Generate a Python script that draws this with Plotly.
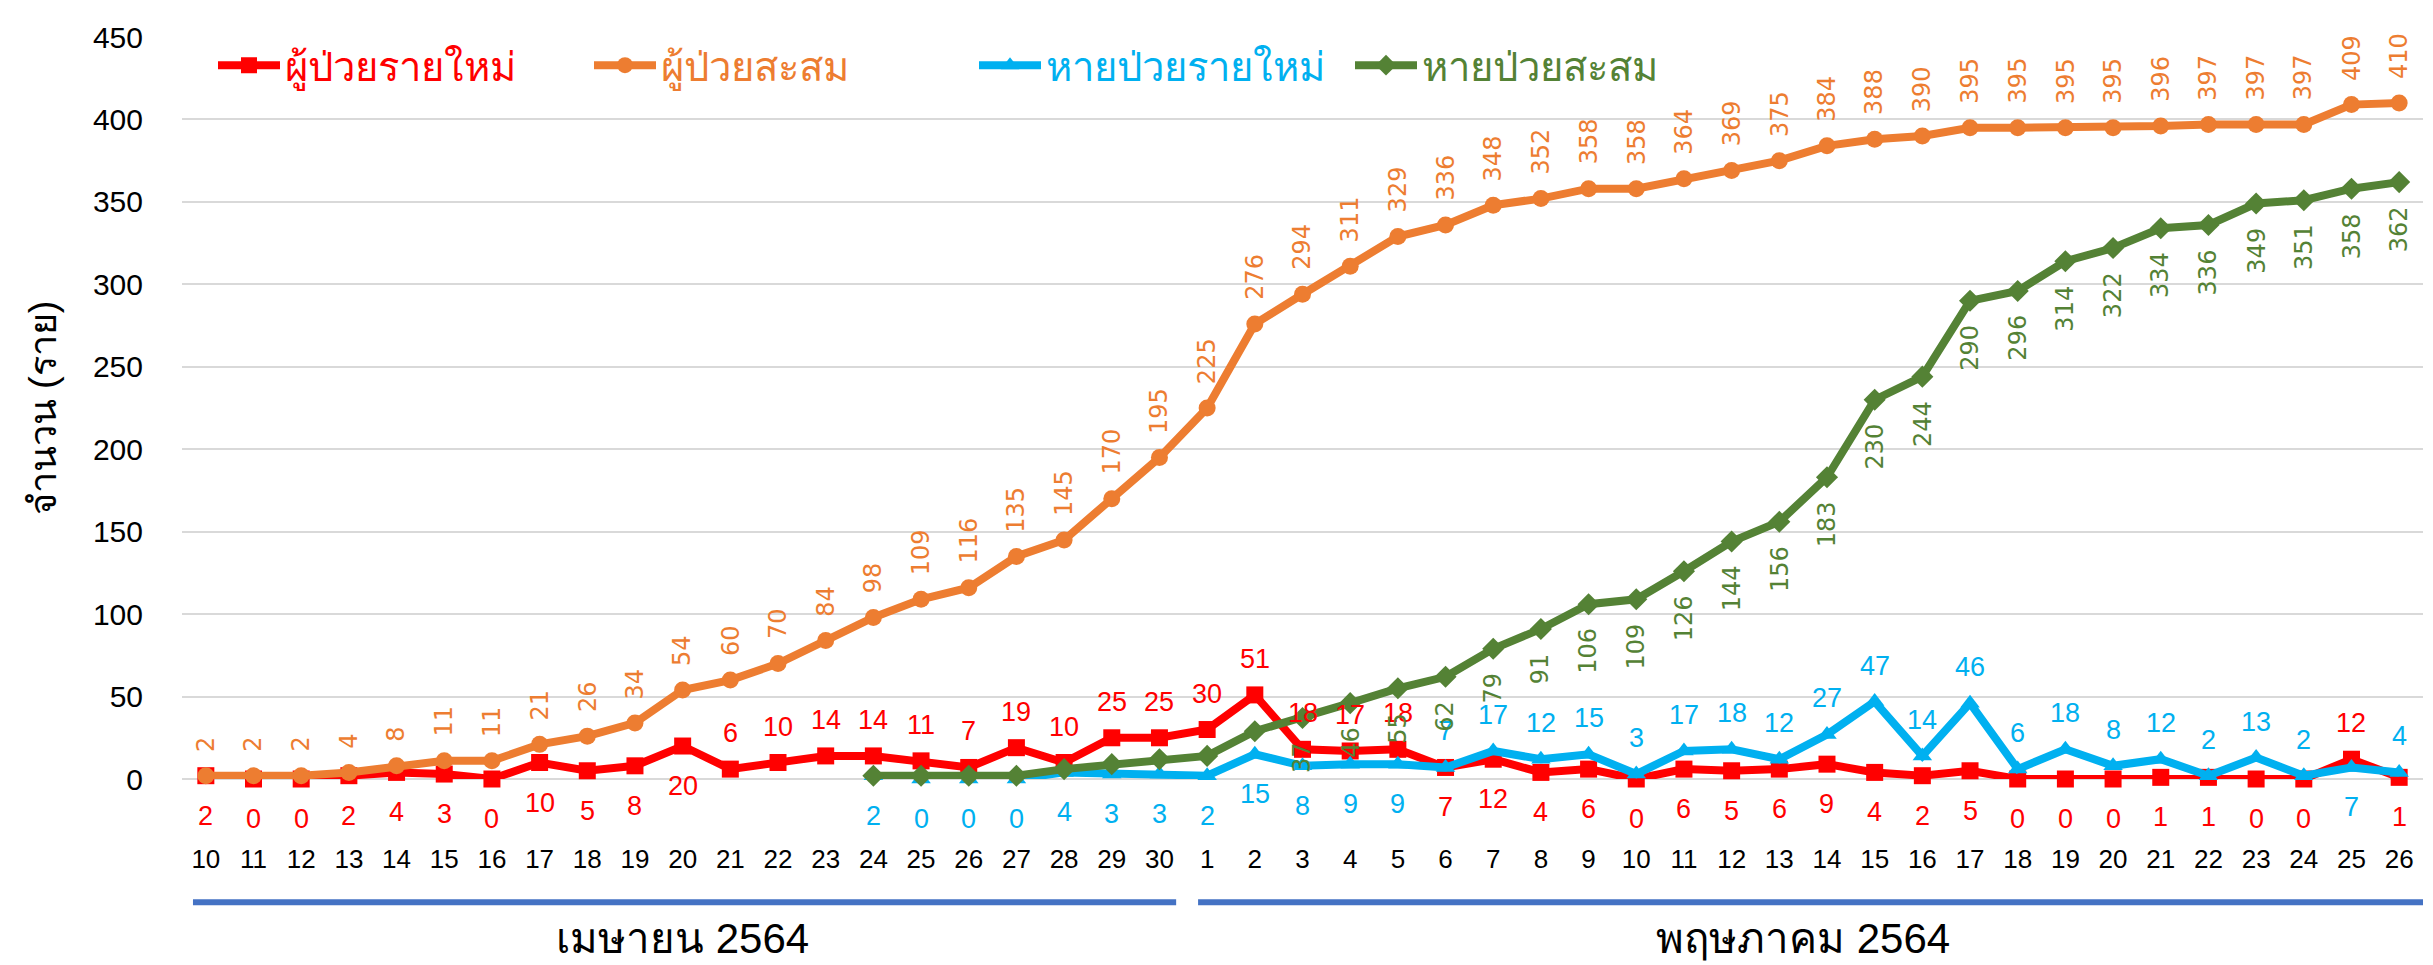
import plotly.graph_objects as go

days = [str(d) for d in range(10, 31)] + [str(d) for d in range(1, 27)]
month_labels = ["เมษายน 2564", "พฤษภาคม 2564"]
series_names = ["ผู้ป่วยรายใหม่", "ผู้ป่วยสะสม", "หายป่วยรายใหม่", "หายป่วยสะสม"]
y_title = "จำนวน (ราย)"

new_cases = [2, 0, 0, 2, 4, 3, 0, 10, 5, 8, 20, 6, 10, 14, 14, 11, 7, 19, 10, 25, 25,
             30, 51, 18, 17, 18, 7, 12, 4, 6, 0, 6, 5, 6, 9, 4, 2, 5, 0, 0, 0, 1, 1, 0, 0, 12, 1]
cum_cases = [2, 2, 2, 4, 8, 11, 11, 21, 26, 34, 54, 60, 70, 84, 98, 109, 116, 135, 145, 170, 195,
             225, 276, 294, 311, 329, 336, 348, 352, 358, 358, 364, 369, 375, 384, 388, 390, 395,
             395, 395, 395, 396, 397, 397, 397, 409, 410]
new_recov = [None] * 14 + [2, 0, 0, 0, 4, 3, 3,
             2, 15, 8, 9, 9, 7, 17, 12, 15, 3, 17, 18, 12, 27, 47, 14, 46, 6, 18, 8, 12, 2, 13, 2, 7, 4]
cum_recov = [None] * 14 + [2, 2, 2, 2, 6, 9, 12,
             14, 29, 37, 46, 55, 62, 79, 91, 106, 109, 126, 144, 156, 183, 230, 244, 290, 296, 314,
             322, 334, 336, 349, 351, 358, 362]

# label placement (style): 'a' above, 'b' below
red_pos = list("bbbbbbbbbbb") + list("aaaaaaaaaa") + list("aaaaa") + list("bbbbbbbbbbbbbbbbbbb") + ["a", "b"]
blue_pos = [None] * 14 + list("bbbbbbb") + list("bbbbb") + list("aaaaaaaaaaaaaaaaaaa") + ["b", "a"]
green_label_from = 23  # first index with a visible green label

RED = "#FF0000"
ORANGE = "#ED7D31"
BLUE = "#00B0F0"
GREEN = "#548235"
LAB = "Liberation Sans, Arial, sans-serif"
WIDE = "DejaVu Sans, Verdana, sans-serif"
THAI = "Liberation Sans, sans-serif"

x = list(range(len(days)))
colors = [RED, ORANGE, BLUE, GREEN]
symbols = ["square", "circle", "triangle-up", "diamond"]
values = [new_cases, cum_cases, new_recov, cum_recov]
legend_ids = ["legend", "legend2", "legend3", "legend4"]

fig = go.Figure()
for name, vals, c, s, lg in zip(series_names, values, colors, symbols, legend_ids):
    fig.add_trace(go.Scatter(
        x=x, y=vals, name=name, mode="lines+markers", legend=lg,
        line=dict(color=c, width=8), marker=dict(symbol=s, size=17, color=c),
        cliponaxis=False))

annotations = []
ABOVE, BELOW = 36, -40
for i, (v, p) in enumerate(zip(new_cases, red_pos)):
    annotations.append(dict(x=i, y=v, xref="x", yref="y", text=str(v), showarrow=False,
                            yanchor="middle", yshift=ABOVE if p == "a" else BELOW,
                            font=dict(color=RED, size=27, family=LAB)))
for i, (v, p) in enumerate(zip(new_recov, blue_pos)):
    if v is None:
        continue
    annotations.append(dict(x=i, y=v, xref="x", yref="y", text=str(v), showarrow=False,
                            yanchor="middle", yshift=ABOVE if p == "a" else BELOW,
                            font=dict(color=BLUE, size=27, family=LAB)))
for i, v in enumerate(cum_cases):
    annotations.append(dict(x=i, y=v, xref="x", yref="y", text=str(v), textangle=-90,
                            showarrow=False, yanchor="bottom", yshift=22,
                            font=dict(color=ORANGE, size=24, family=WIDE)))
for i, v in enumerate(cum_recov):
    if v is None or i < green_label_from:
        continue
    annotations.append(dict(x=i, y=v, xref="x", yref="y", text=str(v), textangle=-90,
                            showarrow=False, yanchor="top", yshift=-22,
                            font=dict(color=GREEN, size=24, family=WIDE)))

n_apr = 21
n = len(days)
annotations.append(dict(x=(n_apr - 1) / 2, y=-0.215, xref="x", yref="paper", text=month_labels[0],
                        showarrow=False, yanchor="middle",
                        font=dict(size=42, color="black", family=THAI)))
annotations.append(dict(x=n_apr + (n - n_apr - 1) / 2, y=-0.215, xref="x", yref="paper",
                        text=month_labels[1], showarrow=False, yanchor="middle",
                        font=dict(size=42, color="black", family=THAI)))

shapes = [
    dict(type="line", xref="x", yref="paper", x0=-0.27, x1=n_apr - 0.65, y0=-0.166, y1=-0.166,
         line=dict(color="#4472C4", width=6)),
    dict(type="line", xref="x", yref="paper", x0=n_apr - 0.19, x1=n - 0.5, y0=-0.166, y1=-0.166,
         line=dict(color="#4472C4", width=6)),
]

plot_l, plot_w = 174, 2241
leg_px = [205, 581, 966, 1342]
legends = {}
for lg, px, c in zip(legend_ids, leg_px, colors):
    legends[lg] = dict(orientation="h", x=(px - plot_l) / plot_w, y=0.962, xanchor="left",
                       yanchor="middle", font=dict(size=40, family=THAI, color=c),
                       itemwidth=62, bgcolor="rgba(0,0,0,0)")

fig.update_layout(
    width=2433, height=965,
    margin=dict(l=plot_l, r=18, t=21, b=194),
    paper_bgcolor="white", plot_bgcolor="white",
    showlegend=True,
    annotations=annotations, shapes=shapes,
    xaxis=dict(range=[-0.5, n - 0.5], tickvals=x, ticktext=days, showgrid=False,
               zeroline=False, showline=False, ticks="", ticklabelstandoff=62,
               tickfont=dict(size=26, color="black", family=LAB)),
    yaxis=dict(range=[0, 450], dtick=50, showgrid=True, gridcolor="#D9D9D9", gridwidth=2,
               zeroline=True, zerolinecolor="#D9D9D9", zerolinewidth=2, ticks="",
               ticklabelstandoff=38,
               tickfont=dict(size=30, color="black", family=LAB),
               title=dict(text=y_title, font=dict(size=38, color="black", family=THAI),
                          standoff=24)),
    **legends,
)

fig.write_html("out.html")
